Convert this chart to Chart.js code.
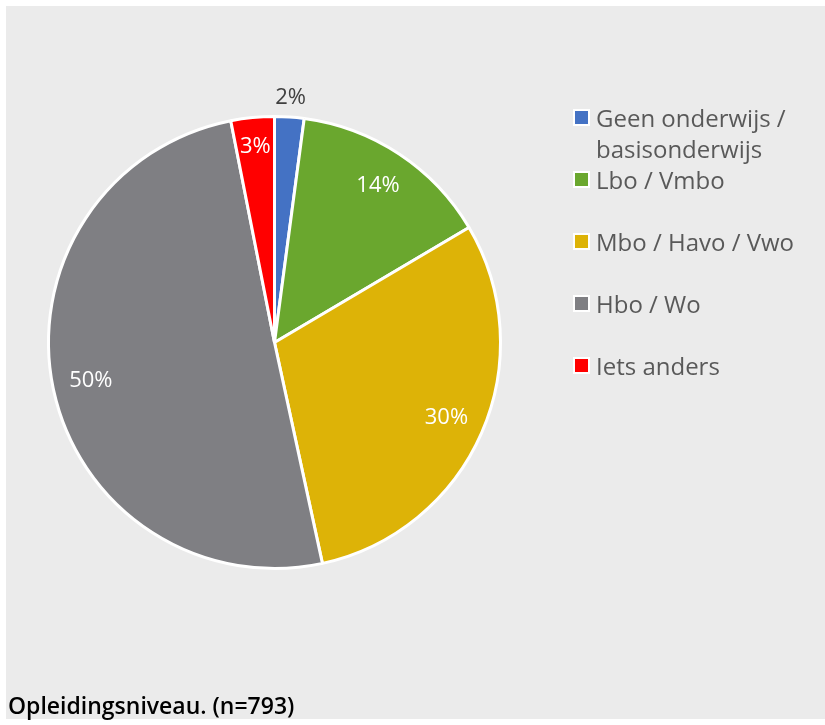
<!DOCTYPE html>
<html>
<head>
<meta charset="utf-8">
<script src="https://cdn.jsdelivr.net/npm/chart.js@4"></script>
<style>
  html, body { margin: 0; padding: 0; background: #ffffff; }
  #panel { position: absolute; left: 6px; top: 6px; width: 819px; height: 713px; background: #ebebeb; }
  #wrap { position: absolute; left: 0; top: 0; width: 825px; height: 725px; }
  #legend { position: absolute; left: 573px; top: 102px; font-family: "Open Sans", sans-serif; font-size: 24px; color: #595959; }
  .item { position: relative; padding-left: 23px; line-height: 31px; width: 215px; }
  .box { position: absolute; left: 0; top: 7px; width: 13px; height: 13px; border: 2px solid #ffffff; box-sizing: content-box; }
  #title { position: absolute; left: 8px; top: 694px; font-family: "Open Sans", sans-serif; font-size: 23px; font-weight: 600; line-height: 22px; color: #000000; }
</style>
</head>
<body>
<div id="panel"></div>
<div id="wrap"><canvas id="pieChart" width="825" height="725"></canvas></div>
<div id="legend"></div>
<div id="title">Opleidingsniveau. (n=793)</div>
<script>
const categories = ['Geen onderwijs / basisonderwijs', 'Lbo / Vmbo', 'Mbo / Havo / Vwo', 'Hbo / Wo', 'Iets anders'];
const shares = [2.1, 14.4, 30.1, 50.3, 3.1];
const sliceColors = ['#4472c4', '#6aa72e', '#ddb307', '#7f7f83', '#ff0000'];

// legend, html so the long label can wrap
const legendGaps = [0, 0, 31, 31, 31];
categories.forEach((name, i) => {
    const item = document.createElement('div');
    item.className = 'item';
    item.style.marginTop = legendGaps[i] + 'px';
    const box = document.createElement('span');
    box.className = 'box';
    box.style.background = sliceColors[i];
    item.appendChild(box);
    item.appendChild(document.createTextNode(name));
    document.getElementById('legend').appendChild(item);
});

const percentLabels = {
    id: 'percentLabels',
    afterDatasetsDraw(chart) {
        const ctx = chart.ctx;
        const meta = chart.getDatasetMeta(0);
        const total = shares.reduce((a, b) => a + b, 0);
        ctx.save();
        ctx.font = '22px "Open Sans", sans-serif';
        ctx.textAlign = 'center';
        ctx.textBaseline = 'middle';
        meta.data.forEach((arc, i) => {
            const pct = Math.round(shares[i] / total * 100);
            const mid = (arc.startAngle + arc.endAngle) / 2;
            let r = arc.outerRadius * 0.83;
            ctx.fillStyle = '#ffffff';
            if (pct < 3) {
                // too thin, put it outside
                r = arc.outerRadius + 19;
                ctx.fillStyle = '#404040';
            } else if (pct < 5) {
                r = arc.outerRadius * 0.87;
            }
            ctx.fillText(pct + '%', arc.x + Math.cos(mid) * r, arc.y + Math.sin(mid) * r);
        });
        ctx.restore();
    }
};

new Chart(document.getElementById('pieChart').getContext('2d'), {
    type: 'pie',
    data: {
        labels: categories,
        datasets: [{
            data: shares,
            backgroundColor: sliceColors,
            borderColor: '#ffffff',
            borderWidth: 3
        }]
    },
    options: {
        responsive: false,
        animation: false,
        layout: { padding: { left: 47, right: 323, top: 115, bottom: 155 } },
        plugins: {
            legend: { display: false },
            tooltip: { enabled: false }
        }
    },
    plugins: [percentLabels]
});
</script>
</body>
</html>
